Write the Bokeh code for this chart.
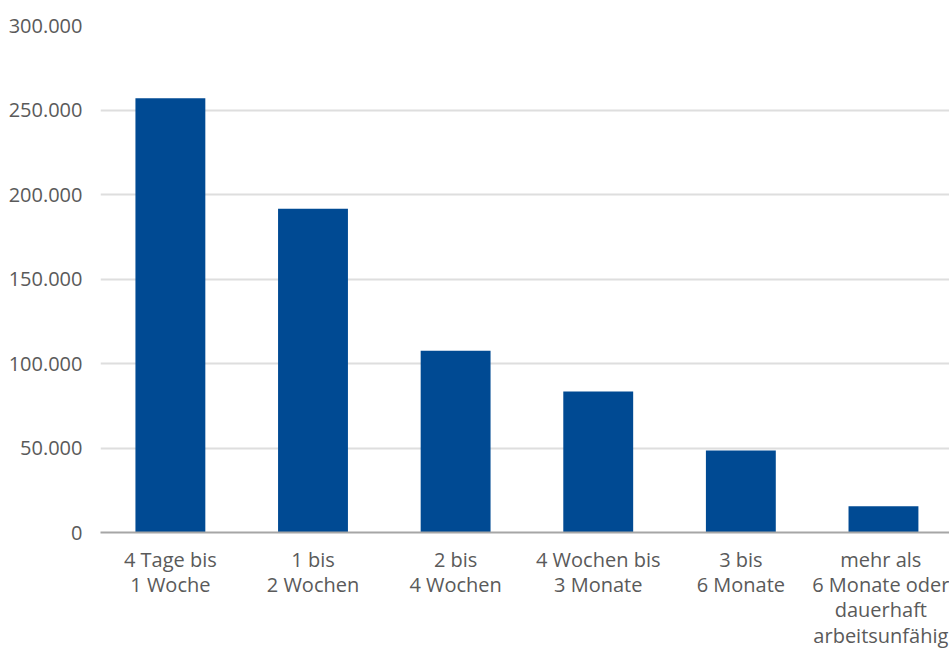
from bokeh.plotting import figure
from bokeh.models import Range1d, FixedTicker
from bokeh.embed import file_html
from bokeh.resources import INLINE

categories = ["4 Tage bis\n1 Woche", "1 bis\n2 Wochen", "2 bis\n4 Wochen",
              "4 Wochen bis\n3 Monate", "3 bis\n6 Monate",
              "mehr als\n6 Monate oder\ndauerhaft\narbeitsunfähig"]
values = [257000, 191500, 107500, 83500, 48500, 15500]
y_ticks = [0, 50000, 100000, 150000, 200000, 250000, 300000]
y_tick_labels = ["0", "50.000", "100.000", "150.000", "200.000", "250.000", "300.000"]

FONT = "Open Sans"
TXT = "#5a5a5a"

xs = list(range(len(categories)))

p = figure(width=949, height=651, output_backend="svg", toolbar_location=None,
           x_range=Range1d(-0.49, 5.463), y_range=Range1d(0, 300000),
           min_border_left=100, min_border_right=0, min_border_top=25,
           min_border_bottom=118)
p.outline_line_color = None
p.background_fill_color = "white"
p.border_fill_color = "white"

p.vbar(x=xs, top=values, width=0.49, color="#004a93", line_color=None)

p.xaxis.ticker = FixedTicker(ticks=xs)
p.xaxis.major_label_overrides = {i: c for i, c in zip(xs, categories)}
p.xaxis.major_tick_line_color = None
p.xaxis.minor_tick_line_color = None
p.xaxis.axis_line_color = "#a6a6a6"
p.xaxis.axis_line_width = 2
p.xaxis.major_label_text_font = FONT
p.xaxis.major_label_text_font_size = "20px"
p.xaxis.major_label_text_color = TXT
p.xaxis.major_label_standoff = 7
p.xaxis.major_label_text_line_height = 0.94
p.xgrid.grid_line_color = None

p.yaxis.ticker = FixedTicker(ticks=y_ticks)
p.yaxis.major_label_overrides = {t: l for t, l in zip(y_ticks, y_tick_labels)}
p.yaxis.axis_line_color = None
p.yaxis.major_tick_line_color = None
p.yaxis.minor_tick_line_color = None
p.yaxis.major_label_text_font = FONT
p.yaxis.major_label_text_font_size = "20px"
p.yaxis.major_label_text_color = TXT
p.yaxis.major_label_standoff = 12
p.ygrid.grid_line_color = "#dedede"
p.ygrid.grid_line_width = 2

open("out.html", "w").write(file_html(p, INLINE))
